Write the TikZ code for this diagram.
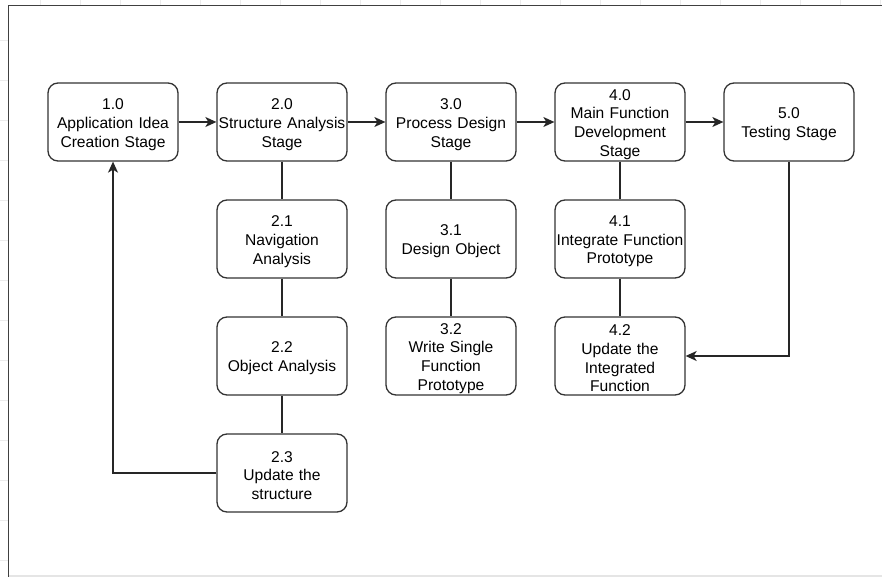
\documentclass[tikz,border=0pt]{standalone}
\usepackage{fontspec}
\setmainfont{Liberation Sans}
\usetikzlibrary{arrows.meta}
\begin{document}
\begin{tikzpicture}[x=1pt,y=-1pt,
  stagebox/.style={draw=black!80, line width=1.3pt, rounded corners=10pt, minimum width=130pt, minimum height=78pt,
    inner sep=0pt, fill=white,
    label={[align=center, text width=130pt, inner sep=0pt, font=\fontsize{15.6}{18.7}\selectfont, yshift=-2.5pt]center:#1}},
  conn/.style={draw=black!85, line width=1.3pt},
  arr/.style={conn, -{Stealth[length=11pt,width=10pt,inset=3pt]}}]
\useasboundingbox (0,0) rectangle (882,577);
\fill[white] (0,0) rectangle (882,577);
% faint grid outside frame
\foreach \gx in {40,80,...,880} \draw[black!8, line width=0.6pt] (\gx,0) -- (\gx,5);
\foreach \gy in {40,80,...,560} \draw[black!8, line width=0.6pt] (0,\gy) -- (8,\gy);
\fill[black!10] (8,575) rectangle (882,577);
% frame
\draw[black!75, line width=1.5pt] (8.5,577) -- (8.5,5.5) -- (882,5.5);

\node[stagebox={1.0\\Application Idea\\Creation Stage}] (n10) at (113,122) {};
\node[stagebox={2.0\\Structure Analysis\\Stage}] (n20) at (282,122) {};
\node[stagebox={3.0\\Process Design\\Stage}] (n30) at (451,122) {};
\node[stagebox={4.0\\Main Function\\Development\\Stage}] (n40) at (620,122) {};
\node[stagebox={5.0\\Testing Stage}] (n50) at (789,122) {};

\node[stagebox={2.1\\Navigation\\Analysis}] (n21) at (282,239) {};
\node[stagebox={2.2\\Object Analysis}] (n22) at (282,356) {};
\node[stagebox={2.3\\Update the\\structure}] (n23) at (282,473) {};

\node[stagebox={3.1\\Design Object}] (n31) at (451,239) {};
\node[stagebox={3.2\\Write Single\\Function\\Prototype}] (n32) at (451,356) {};

\node[stagebox={4.1\\Integrate Function\\Prototype}] (n41) at (620,239) {};
\node[stagebox={4.2\\Update the\\Integrated\\Function}] (n42) at (620,356) {};

\draw[arr] (n10) -- (n20);
\draw[arr] (n20) -- (n30);
\draw[arr] (n30) -- (n40);
\draw[arr] (n40) -- (n50);

\draw[conn] (n20) -- (n21);
\draw[conn] (n21) -- (n22);
\draw[conn] (n22) -- (n23);
\draw[conn] (n30) -- (n31);
\draw[conn] (n31) -- (n32);
\draw[conn] (n40) -- (n41);
\draw[conn] (n41) -- (n42);

\draw[arr] (n23.west) -| (n10.south);
\draw[arr] (n50.south) |- (n42.east);
\end{tikzpicture}
\end{document}
